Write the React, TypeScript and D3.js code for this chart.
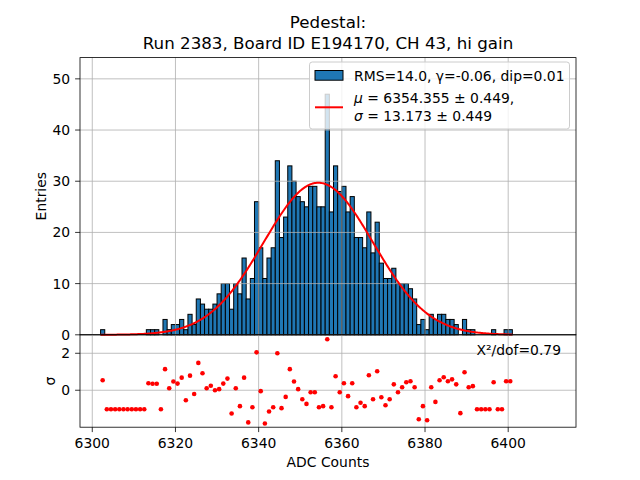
import * as d3 from "d3";

// figure geometry (matplotlib default 6.4x4.8in @ 100dpi)
const WIDTH = 640;
const HEIGHT = 480;
const AX = { left: 80, right: 576, top: 57.6, split: 334.8, bottom: 427.2 };
const FONT = "DejaVu Sans, sans-serif";

// histogram bins: left edges 6302 .. 6400, width 1 ADC count
const binEdges = d3.range(6302, 6401);

// entries per bin
const counts = [
  1, 0, 0, 0, 0, 0, 0, 0, 0, 0, 0, 1, 1, 1, 0, 3, 1, 2, 2, 3, 1,
  4, 2, 7, 6, 5, 5, 6, 8, 10, 10,
  5, 10, 8, 15, 7, 11, 26, 17, 11, 15,
  17, 34, 19, 23, 33, 30, 27, 26, 25, 29,
  29, 25, 25, 47, 24, 33, 28, 29, 24, 27,
  19, 19, 17, 24, 16, 22, 14, 11, 11, 13,
  10, 10, 10, 9, 7, 2, 3, 1, 4, 3,
  4, 4, 3, 3, 2, 0, 3, 1, 1, 0,
  0, 0, 0, 1, 0, 0, 1, 1,
];

// residuals (sigma) per bin, plotted at bin centers
const pulls = [
  0.54, -1.03, -1.03, -1.03, -1.03, -1.03, -1.03, -1.03, -1.03, -1.03, -1.03,
  0.38, 0.35, 0.35, -1.03, 1.14, 0.11, 0.47, 0.36, 0.68, -0.54,
  0.79, -0.2, 1.48, 0.92, 0.11, 0.24, 0.0, 0.06, 0.36, 0.63,
  -1.26, 0.11, -0.86, 0.68, -1.74, -0.92, 2.05, -0.05, -1.8, -1.15,
  -0.92, 2.0, -0.97, -0.36, 1.14, 0.47, 0.06, -0.49, -0.74, -0.11,
  -0.11, -0.92, -0.86, 2.76, -0.92, 0.76, -0.11, 0.38, -0.32, 0.38,
  -0.92, -0.68, -0.86, 0.81, -0.49, 1.03, -0.38, -0.81, -0.49, 0.32,
  -0.11, 0.16, 0.43, 0.49, 0.16, -1.57, -0.86, -1.62, 0.16, -0.63,
  0.54, 0.7, 0.49, 0.59, 0.32, -1.24, 0.97, 0.16, 0.22, -1.03,
  -1.03, -1.03, -1.03, 0.43, -1.03, -1.03, 0.49, 0.49,
];

// gaussian fit parameters (from the legend) and peak height
const FIT_MU = 6354.355;
const FIT_SIGMA = 13.173;
const FIT_AMP = 29.7;
const FIT_RANGE = [6302, 6401];

const xTicks = [6300, 6320, 6340, 6360, 6380, 6400];
const yMainTicks = [0, 10, 20, 30, 40, 50];
const yPullTicks = [0, 2];

const TICK = 4.9;

export default function App() {
  const xScale = d3.scaleLinear().domain([6297.05, 6416.3]).range([AX.left, AX.right]);
  const yMain = d3.scaleLinear().domain([0, 54.15]).range([AX.split, AX.top]);
  const yPull = d3.scaleLinear().domain([-2, 3]).range([AX.bottom, AX.split]);

  const gauss = (x: number) =>
    FIT_AMP * Math.exp(-((x - FIT_MU) ** 2) / (2 * FIT_SIGMA * FIT_SIGMA));

  const curveX = d3.range(FIT_RANGE[0], FIT_RANGE[1] + 0.001, 0.25);
  const linePath = d3
    .line<number>()
    .x((d) => xScale(d))
    .y((d) => yMain(gauss(d)))(curveX);

  const bars = binEdges.map((edge, i) => {
    const c = counts[i];
    if (!c) return null;
    const x0 = xScale(edge);
    const x1 = xScale(edge + 1);
    return (
      <rect
        key={edge}
        x={x0}
        y={yMain(c)}
        width={x1 - x0}
        height={yMain(0) - yMain(c)}
        fill="#1f77b4"
        stroke="#000"
        strokeWidth={1}
      />
    );
  });

  const gridColor = "#b0b0b0";

  return (
    <svg width={WIDTH} height={HEIGHT} style={{ display: "block", margin: -8 }} fontFamily={FONT}>
      <rect width={WIDTH} height={HEIGHT} fill="#fff" />

      {/* title */}
      <text x={(AX.left + AX.right) / 2} y={28} textAnchor="middle" fontSize={16.7}>
        Pedestal:
      </text>
      <text x={(AX.left + AX.right) / 2} y={49} textAnchor="middle" fontSize={16.7}>
        Run 2383, Board ID E194170, CH 43, hi gain
      </text>

      {/* main panel */}
      {bars}
      {xTicks.map((t) => (
        <line key={"gx" + t} x1={xScale(t)} x2={xScale(t)} y1={AX.top} y2={AX.split} stroke={gridColor} strokeWidth={0.8} />
      ))}
      {yMainTicks.map((t) => (
        <line key={"gy" + t} x1={AX.left} x2={AX.right} y1={yMain(t)} y2={yMain(t)} stroke={gridColor} strokeWidth={0.8} />
      ))}
      <path d={linePath ?? ""} fill="none" stroke="red" strokeWidth={2} />
      {yMainTicks.map((t) => (
        <g key={"ty" + t}>
          <line x1={AX.left - TICK} x2={AX.left} y1={yMain(t)} y2={yMain(t)} stroke="#000" strokeWidth={0.8} />
          <text x={AX.left - TICK - 4.9} y={yMain(t) + 5} textAnchor="end" fontSize={13.9}>
            {t}
          </text>
        </g>
      ))}
      <rect x={AX.left} y={AX.top} width={AX.right - AX.left} height={AX.split - AX.top} fill="none" stroke="#000" strokeWidth={0.8} />
      <text transform={`translate(41,${(AX.top + AX.split) / 2}) rotate(-90)`} textAnchor="middle" fontSize={13.9} dy="0.35em">
        Entries
      </text>

      {/* legend */}
      <g>
        <rect x={309.5} y={62} width={260} height={67} rx={2.8} fill="#fff" fillOpacity={0.8} stroke="#cccccc" strokeWidth={1} />
        <rect x={315} y={70.5} width={28} height={9.7} fill="#1f77b4" stroke="#000" strokeWidth={1} />
        <text x={354} y={80.5} fontSize={13.9}>
          RMS=14.0, γ=-0.06, dip=0.01
        </text>
        <line x1={315} x2={343} y1={107.3} y2={107.3} stroke="red" strokeWidth={2} />
        <text x={354} y={103} fontSize={13.9}>
          <tspan fontStyle="italic">μ</tspan> = 6354.355 ± 0.449,
        </text>
        <text x={354} y={121} fontSize={13.9}>
          <tspan fontStyle="italic">σ</tspan> = 13.173 ± 0.449
        </text>
      </g>

      {/* pull panel */}
      {xTicks.map((t) => (
        <line key={"px" + t} x1={xScale(t)} x2={xScale(t)} y1={AX.split} y2={AX.bottom} stroke={gridColor} strokeWidth={0.8} />
      ))}
      {yPullTicks.map((t) => (
        <line key={"py" + t} x1={AX.left} x2={AX.right} y1={yPull(t)} y2={yPull(t)} stroke={gridColor} strokeWidth={0.8} />
      ))}
      {binEdges.map((edge, i) => (
        <circle key={"p" + edge} cx={xScale(edge + 0.5)} cy={yPull(pulls[i])} r={2.3} fill="red" />
      ))}
      {yPullTicks.map((t) => (
        <g key={"tp" + t}>
          <line x1={AX.left - TICK} x2={AX.left} y1={yPull(t)} y2={yPull(t)} stroke="#000" strokeWidth={0.8} />
          <text x={AX.left - TICK - 4.9} y={yPull(t) + 5} textAnchor="end" fontSize={13.9}>
            {t}
          </text>
        </g>
      ))}
      {xTicks.map((t) => (
        <g key={"tx" + t}>
          <line x1={xScale(t)} x2={xScale(t)} y1={AX.bottom} y2={AX.bottom + TICK} stroke="#000" strokeWidth={0.8} />
          <text x={xScale(t)} y={AX.bottom + TICK + 4.9 + 11} textAnchor="middle" fontSize={13.9}>
            {t}
          </text>
        </g>
      ))}
      <rect x={AX.left} y={AX.split} width={AX.right - AX.left} height={AX.bottom - AX.split} fill="none" stroke="#000" strokeWidth={0.8} />
      <text x={561} y={355} textAnchor="end" fontSize={13.9}>
        X²/dof=0.79
      </text>
      <text transform={`translate(50,${(AX.split + AX.bottom) / 2}) rotate(-90)`} textAnchor="middle" fontSize={13.9} dy="0.35em">
        σ
      </text>
      <text x={(AX.left + AX.right) / 2} y={467} textAnchor="middle" fontSize={13.9}>
        ADC Counts
      </text>
    </svg>
  );
}
